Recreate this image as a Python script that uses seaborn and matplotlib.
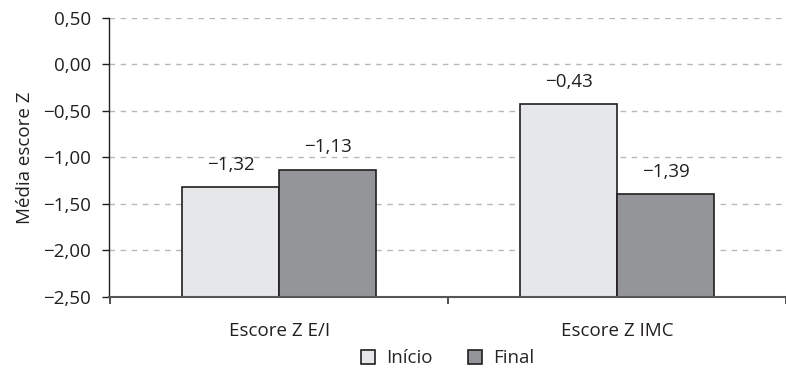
import matplotlib
matplotlib.use("Agg")
import matplotlib.pyplot as plt
import pandas as pd
import seaborn as sns
from matplotlib.patches import Patch

# Dados
categorias = ["Escore Z E/I", "Escore Z IMC"]
momentos = ["Início", "Final"]
inicio = [-1.32, -0.43]
final = [-1.13, -1.39]
yticks = [0.5, 0.0, -0.5, -1.0, -1.5, -2.0, -2.5]
base = -2.5
cores = ["#e6e7e8", "#939598"]


def fmt(v):
    return f"{v:.2f}".replace(".", ",").replace("-", "\u2212")


df = pd.DataFrame({
    "categoria": categorias * 2,
    "momento": [momentos[0]] * len(categorias) + [momentos[1]] * len(categorias),
    "valor": inicio + final,
})
# bars start at the bottom of the axis (-2,50), not at zero
df["altura"] = df["valor"] - base

sns.set_style("white")
plt.rcParams["font.family"] = ["Open Sans", "DejaVu Sans"]

fig = plt.figure(figsize=(7.86, 3.71), dpi=100)
ax = fig.add_axes([0.1387, 0.1995, 0.8613, 0.752])

sns.barplot(
    data=df, x="categoria", y="altura", hue="momento",
    order=categorias, hue_order=momentos, palette=cores,
    saturation=1, width=0.575, errorbar=None,
    edgecolor="#231f20", linewidth=1.2, bottom=base,
    legend=False, ax=ax,
)

# value labels
for cont, vals in zip(ax.containers, [inicio, final]):
    ax.bar_label(cont, labels=[fmt(v) for v in vals], padding=9.5,
                 fontsize=13.5, color="#231f20")

ax.set_ylim(-2.5, 0.5)
ax.set_yticks(yticks)
ax.set_yticklabels([fmt(v) for v in yticks])
ax.set_xlim(-0.504, 1.48)

ax.yaxis.grid(True, linestyle=(0, (4, 4)), color="#b8b8b8", linewidth=1)
ax.set_axisbelow(True)

ax.tick_params(axis="y", length=5, width=1, color="#231f20",
               labelsize=13.5, labelcolor="#231f20", pad=8, left=True)
ax.tick_params(axis="x", which="major", length=0, pad=18,
               labelsize=13.5, labelcolor="#231f20")
ax.set_xticks([-0.5, 0.5, 1.5], minor=True)
ax.tick_params(axis="x", which="minor", length=5, width=1.2,
               color="#333333", bottom=True)

for s in ["top", "right"]:
    ax.spines[s].set_visible(False)
ax.spines["left"].set_color("#231f20")
ax.spines["left"].set_linewidth(1)
ax.spines["bottom"].set_color("#555555")
ax.spines["bottom"].set_linewidth(1.5)

ax.set_xlabel("")
ax.set_ylabel("Média escore Z", fontsize=13.5, color="#231f20")
ax.yaxis.set_label_coords(-0.111, 0.5)

handles = [Patch(facecolor=c, edgecolor="#231f20", linewidth=1.2) for c in cores]
ax.legend(handles, momentos, loc="center", bbox_to_anchor=(0.5, -0.22),
          ncol=2, frameon=False, fontsize=13.5, handlelength=0.75,
          handleheight=0.75, handletextpad=0.6, columnspacing=1.9)

fig.savefig("out.png", dpi=100)
